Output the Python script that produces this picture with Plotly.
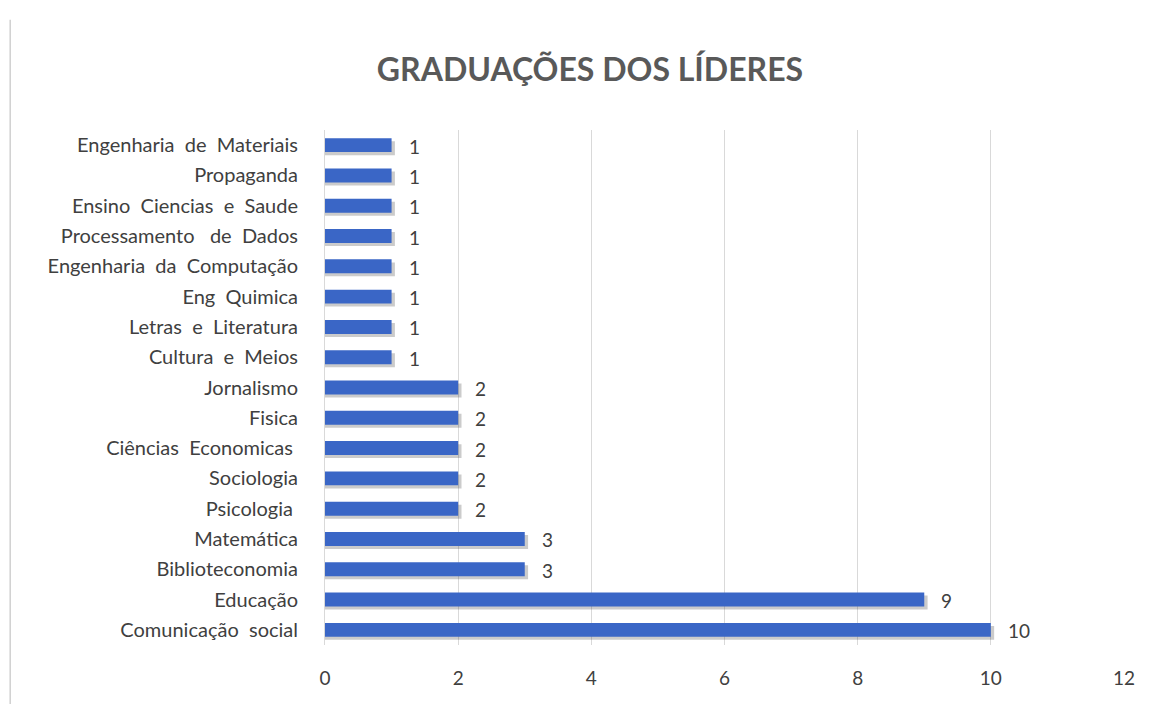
import plotly.graph_objects as go

categories = [
    "Comunicação  social", "Educação", "Biblioteconomia", "Matemática", "Psicologia ",
    "Sociologia", "Ciências  Economicas ", "Fisica", "Jornalismo", "Cultura  e  Meios",
    "Letras  e  Literatura", "Eng  Quimica", "Engenharia  da  Computação",
    "Processamento   de  Dados", "Ensino  Ciencias  e  Saude", "Propaganda",
    "Engenharia  de  Materiais",
]
values = [10, 9, 3, 3, 2, 2, 2, 2, 2, 1, 1, 1, 1, 1, 1, 1, 1]
x_ticks = [0, 2, 4, 6, 8, 10, 12]

FONT = "Lato"
BAR_W = 0.46

fig = go.Figure()
# soft shadow
fig.add_trace(go.Bar(
    y=categories, x=[v + 0.05 for v in values], orientation="h",
    marker=dict(color="rgba(70,70,70,0.28)", line=dict(width=0)),
    width=BAR_W, offset=-BAR_W / 2 - 0.1, hoverinfo="skip", showlegend=False,
))
fig.add_trace(go.Bar(
    y=categories, x=values, orientation="h",
    marker=dict(color="#3A66C6", line=dict(width=0)),
    width=BAR_W, offset=-BAR_W / 2, showlegend=False,
))

annotations = [
    dict(x=v, y=c, xref="x", yref="y", text=str(v), showarrow=False,
         xanchor="left", xshift=15, yshift=-1,
         font=dict(family=FONT, size=19, color="#404040"))
    for c, v in zip(categories, values)
]

fig.update_layout(
    width=1157, height=696,
    paper_bgcolor="white", plot_bgcolor="white",
    margin=dict(l=317, r=41, t=122, b=59),
    barmode="overlay",
    title=dict(text="<b>GRADUAÇÕES DOS LÍDERES</b>", x=0.503, xanchor="center",
               y=0.911, yanchor="middle",
               font=dict(family=FONT, size=32, color="#595959")),
    font=dict(family=FONT, size=19, color="#404040"),
    xaxis=dict(range=[0, 12], tickvals=x_ticks, showgrid=True, gridcolor="#D9D9D9",
               gridwidth=1, zeroline=False, showline=False, ticks="",
               tickfont=dict(family=FONT, size=19, color="#404040"),
               ticklabelstandoff=20),
    yaxis=dict(categoryorder="array", categoryarray=categories, showline=True,
               linecolor="#D9D9D9", linewidth=1, ticks="", showgrid=False,
               range=[-0.5, len(categories) - 0.5],
               tickfont=dict(family=FONT, size=20, color="#404040"),
               ticklabelstandoff=22),
    annotations=annotations,
    shapes=[dict(type="line", xref="paper", yref="paper", x0=-0.394, x1=-0.394,
                 y0=-0.12, y1=1.214, line=dict(color="#D0D0D0", width=1.5))],
)

fig.write_html("out.html")
